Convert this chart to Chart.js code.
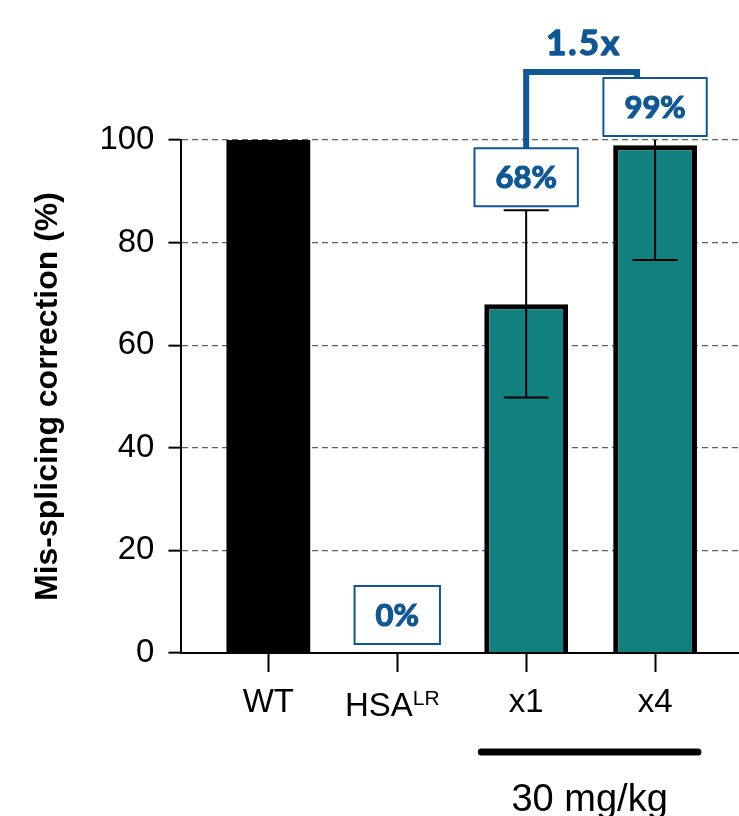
<!DOCTYPE html>
<html>
<head>
<meta charset="utf-8">
<script src="https://cdn.jsdelivr.net/npm/chart.js@4.4.1/dist/chart.umd.min.js"></script>
<style>
  html, body { margin: 0; padding: 0; background: #fff; }
  #wrap { width: 739px; height: 816px; }
</style>
</head>
<body>
<div id="wrap"><canvas id="chart" width="739" height="816"></canvas></div>
<script>
//////////////// DATA
const groups = ['WT', 'HSA', 'x1', 'x4'];
const groupSup = ['', 'LR', '', ''];
const correction = [100, 0, 68, 99];
const errLow = [null, null, 49.8, 76.6];
const errHigh = [null, null, 86.3, 121.4];
const pctLabels = [null, '0%', '68%', '99%'];
const barColors = ['#000000', '#12807e', '#12807e', '#12807e'];
const barBorders = [0, 0, 5, 5];
const yTicks = [0, 20, 40, 60, 80, 100];
const yTitle = 'Mis-splicing correction (%)';
const foldLabel = '1.5x';
const foldPair = [2, 3];
const doseLabel = '30 mg/kg';
const doseGroups = [2, 3];

const BLUE = '#0f5795';
const SANS = "'Liberation Sans', Arial, sans-serif";
const ANNOT = "Lato, 'Open Sans', sans-serif";

// bold text with a thin outline so it reads heavier
function heavyText(ctx, text, x, y, extra) {
  ctx.lineWidth = extra;
  ctx.lineJoin = 'round';
  ctx.strokeText(text, x, y);
  ctx.fillText(text, x, y);
}

//////////////// extras drawn on top of the bars
const extrasPlugin = {
  id: 'extras',
  afterDatasetsDraw(chart) {
    const ctx = chart.ctx;
    const y = chart.scales.y;
    const area = chart.chartArea;
    const bars = chart.getDatasetMeta(0).data;
    const boxes = [];

    ctx.save();

    // error bars
    bars.forEach((bar, i) => {
      if (errHigh[i] == null) return;
      const capW = 45;
      const yHi = y.getPixelForValue(errHigh[i]);
      const yTop = Math.max(yHi, area.top);
      const yLo = y.getPixelForValue(errLow[i]);
      ctx.strokeStyle = '#000';
      ctx.lineWidth = 2;
      ctx.beginPath();
      ctx.moveTo(bar.x, yLo);
      ctx.lineTo(bar.x, yTop);
      ctx.moveTo(bar.x - capW / 2, yLo);
      ctx.lineTo(bar.x + capW / 2, yLo);
      if (yHi >= area.top) {
        ctx.moveTo(bar.x - capW / 2, yHi);
        ctx.lineTo(bar.x + capW / 2, yHi);
      }
      ctx.stroke();
    });

    // percentage boxes
    ctx.font = 'bold 31px ' + ANNOT;
    ctx.textAlign = 'center';
    ctx.textBaseline = 'middle';
    bars.forEach((bar, i) => {
      if (!pctLabels[i]) return;
      const w = ctx.measureText(pctLabels[i]).width + 42;
      const h = 58;
      let bottom;
      if (errHigh[i] != null) {
        bottom = Math.max(y.getPixelForValue(errHigh[i]), area.top) - 4;
      } else {
        bottom = bar.y - 9;
      }
      const top = bottom - h;
      ctx.fillStyle = '#fff';
      ctx.fillRect(bar.x - w / 2, top, w, h);
      ctx.strokeStyle = BLUE;
      ctx.lineWidth = 2;
      ctx.strokeRect(bar.x - w / 2, top, w, h);
      ctx.fillStyle = BLUE;
      heavyText(ctx, pctLabels[i], bar.x, top + h / 2 + 1, 1.2);
      boxes[i] = { top: top, left: bar.x - w / 2 };
    });

    // fold-change bracket
    const a = foldPair[0], b = foldPair[1];
    const lx = bars[a].x;
    const rx = bars[b].x - 18;
    const by = boxes[b].top - 6;
    ctx.strokeStyle = BLUE;
    ctx.lineWidth = 6;
    ctx.lineJoin = 'miter';
    ctx.beginPath();
    ctx.moveTo(lx, boxes[a].top);
    ctx.lineTo(lx, by);
    ctx.lineTo(rx, by);
    ctx.lineTo(rx, boxes[b].top);
    ctx.stroke();
    ctx.fillStyle = BLUE;
    ctx.font = 'bold 35px ' + ANNOT;
    ctx.textBaseline = 'alphabetic';
    ctx.letterSpacing = '2px';
    heavyText(ctx, foldLabel, (lx + rx) / 2 + 2, by - 17, 1.4);
    ctx.letterSpacing = '0px';

    // category labels with superscripts
    ctx.fillStyle = '#000';
    bars.forEach((bar, i) => {
      ctx.font = '33px ' + SANS;
      const mw = ctx.measureText(groups[i]).width;
      let sw = 0;
      if (groupSup[i]) {
        ctx.font = '21px ' + SANS;
        sw = ctx.measureText(groupSup[i]).width;
      }
      const base = groupSup[i] ? 716 : 712;
      const x0 = bar.x - (mw + sw) / 2 - (groupSup[i] ? 5 : 0);
      ctx.textAlign = 'left';
      ctx.font = '33px ' + SANS;
      ctx.fillText(groups[i], x0, base);
      if (groupSup[i]) {
        ctx.font = '21px ' + SANS;
        ctx.fillText(groupSup[i], x0 + mw, base - 11);
      }
    });

    // dose bar
    const d0 = bars[doseGroups[0]], d1 = bars[doseGroups[1]];
    const dx0 = d0.x - d0.width / 2 - 3;
    const dx1 = d1.x + d1.width / 2 + 1;
    ctx.strokeStyle = '#000';
    ctx.lineWidth = 7;
    ctx.lineCap = 'round';
    ctx.beginPath();
    ctx.moveTo(dx0, 752);
    ctx.lineTo(dx1, 752);
    ctx.stroke();
    ctx.font = '38px ' + SANS;
    ctx.textAlign = 'center';
    ctx.fillText(doseLabel, (dx0 + dx1) / 2, 811);

    ctx.restore();
  }
};

const chartContext = document.getElementById('chart').getContext('2d');

new Chart(chartContext, {
  type: 'bar',
  data: {
    datasets: [{
      data: correction.map((v, i) => ({ x: i, y: v })),
      backgroundColor: barColors,
      borderColor: '#000',
      borderWidth: barBorders,
      borderSkipped: 'start',
      barPercentage: 0.65,
      categoryPercentage: 1
    }]
  },
  options: {
    responsive: false,
    animation: false,
    layout: { padding: { left: 25, right: 0, top: 140, bottom: 144 } },
    plugins: { legend: { display: false }, tooltip: { enabled: false } },
    scales: {
      x: {
        type: 'linear',
        offset: false,
        min: -0.674,
        max: 3.651,
        afterBuildTicks: (scale) => { scale.ticks = groups.map((g, i) => ({ value: i })); },
        ticks: { display: false },
        grid: { offset: false, drawOnChartArea: false, tickLength: 19, tickWidth: 2, tickColor: '#000' },
        border: { color: '#000', width: 2 }
      },
      y: {
        min: 0,
        max: 100,
        afterBuildTicks: (scale) => { scale.ticks = yTicks.map(v => ({ value: v })); },
        ticks: { color: '#000', font: { family: SANS, size: 33 }, padding: 14 },
        grid: {
          color: (c) => (c.tick && c.tick.value === 0) ? 'rgba(0,0,0,0)' : '#606060',
          lineWidth: 1.3,
          tickLength: 13,
          tickWidth: 2,
          tickColor: '#000',
          tickBorderDash: []
        },
        border: { color: '#000', width: 2, dash: [6, 4] },
        title: {
          display: true,
          text: yTitle,
          color: '#000',
          font: { family: SANS, size: 32, weight: 'bold' },
          padding: { top: 4, bottom: 18 }
        }
      }
    }
  },
  plugins: [extrasPlugin]
});
</script>
</body>
</html>
